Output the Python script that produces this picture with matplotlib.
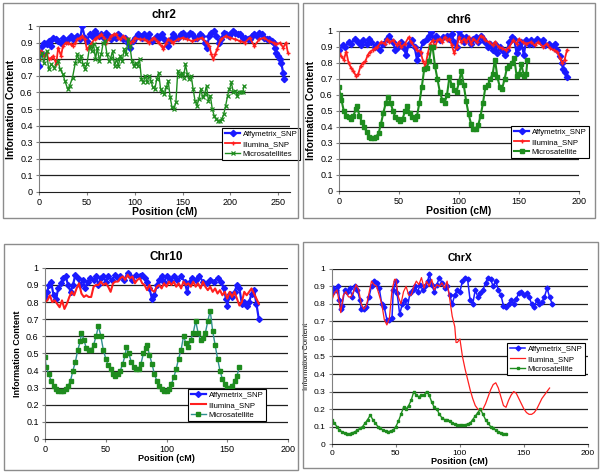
import matplotlib
matplotlib.use('Agg')
import matplotlib.pyplot as plt
from matplotlib.patches import Rectangle

plt.rcParams['font.family'] = ['Liberation Sans', 'DejaVu Sans']

# ---- chr2 ----
chr2_affy_pos = [0, 2, 3, 5, 8, 10, 13, 15, 18, 20, 23, 25, 28, 30, 33, 35, 38, 40, 43, 45, 48, 50, 53, 55, 58, 60,
                 63, 65, 68, 70, 73, 75, 78, 80, 83, 85, 88, 90, 93, 95, 98, 100, 103, 105, 108, 110, 113, 115, 118,
                 120, 123, 125, 128, 130, 133, 135, 138, 140, 143, 145, 148, 150, 153, 155, 158, 160, 163, 165, 168,
                 170, 173, 175, 178, 180, 183, 185, 188, 190, 193, 195, 198, 200, 203, 205, 208, 210, 213, 215, 218,
                 220, 223, 225, 228, 230, 233, 235, 238, 240, 243, 245, 247, 248, 250, 252, 253, 255, 256]
chr2_affy_ic = [0.76, 0.84, 0.88, 0.9, 0.89, 0.91, 0.88, 0.93, 0.92, 0.91, 0.9, 0.93, 0.91, 0.92, 0.94, 0.92, 0.93, 0.94,
                0.92, 1.0, 0.93, 0.91, 0.95, 0.94, 0.97, 0.95, 0.94, 0.95, 0.93, 0.96, 0.94, 0.92, 0.94, 0.93, 0.95,
                0.94, 0.92, 0.93, 0.9, 0.87, 0.91, 0.93, 0.95, 0.94, 0.93, 0.95, 0.93, 0.95, 0.91, 0.92, 0.94, 0.93,
                0.95, 0.93, 0.91, 0.88, 0.92, 0.95, 0.93, 0.93, 0.95, 0.96, 0.94, 0.94, 0.96, 0.95, 0.93, 0.93, 0.95,
                0.94, 0.9, 0.87, 0.94, 0.96, 0.97, 0.94, 0.9, 0.92, 0.96, 0.95, 0.94, 0.95, 0.97, 0.96, 0.95, 0.95,
                0.93, 0.93, 0.92, 0.92, 0.94, 0.95, 0.94, 0.96, 0.95, 0.93, 0.92, 0.92, 0.91, 0.9, 0.87, 0.84, 0.82,
                0.8, 0.78, 0.72, 0.68]
chr2_illu_pos = [0, 2, 5, 8, 10, 13, 15, 18, 20, 23, 25, 28, 30, 33, 35, 38, 40, 43, 45, 48, 50, 53, 55, 58, 60, 63, 65,
                 68, 70, 73, 75, 78, 80, 83, 85, 88, 90, 93, 95, 98, 100, 105, 110, 113, 115, 118, 120, 123, 125, 128,
                 130, 133, 135, 138, 140, 145, 150, 155, 160, 165, 170, 175, 178, 180, 182, 184, 186, 190, 195, 200,
                 205, 210, 215, 220, 225, 230, 235, 240, 245, 248, 252, 255, 258, 260]
chr2_illu_ic = [0.8, 0.85, 0.82, 0.84, 0.8, 0.81, 0.82, 0.77, 0.87, 0.82, 0.88, 0.9, 0.9, 0.89, 0.88, 0.9, 0.92, 0.93,
                0.94, 0.92, 0.86, 0.88, 0.9, 0.92, 0.93, 0.94, 0.95, 0.93, 0.9, 0.92, 0.94, 0.95, 0.95, 0.93, 0.92,
                0.94, 0.93, 0.92, 0.9, 0.91, 0.93, 0.92, 0.92, 0.91, 0.9, 0.92, 0.93, 0.91, 0.9, 0.88, 0.86, 0.9, 0.92,
                0.91, 0.9, 0.92, 0.93, 0.92, 0.91, 0.92, 0.93, 0.9, 0.88, 0.83, 0.8, 0.83, 0.86, 0.92, 0.94, 0.93,
                0.92, 0.91, 0.9, 0.93, 0.88, 0.92, 0.93, 0.91, 0.9, 0.89, 0.9, 0.87, 0.9, 0.84]
chr2_micro_pos = [0, 3, 5, 8, 10, 13, 16, 20, 22, 25, 27, 30, 32, 35, 38, 40, 42, 44, 46, 48, 50, 53, 55, 57, 59, 61,
                  63, 65, 67, 69, 71, 73, 75, 77, 79, 81, 83, 85, 87, 89, 91, 93, 95, 97, 99, 101, 103, 105, 107, 109,
                  111, 113, 115, 117, 119, 121, 123, 125, 127, 129, 131, 133, 135, 137, 139, 141, 143, 145, 147, 149,
                  151, 153, 155, 157, 159, 161, 163, 165, 167, 169, 171, 173, 175, 177, 179, 181, 183, 185, 187, 189,
                  191, 193, 195, 197, 199, 201, 203, 205, 207, 209, 211, 213, 214]
chr2_micro_ic = [0.8, 0.84, 0.78, 0.85, 0.74, 0.77, 0.75, 0.79, 0.74, 0.71, 0.67, 0.62, 0.64, 0.69, 0.78, 0.83, 0.79,
                 0.82, 0.77, 0.74, 0.77, 0.88, 0.85, 0.89, 0.8, 0.87, 0.79, 0.83, 0.9, 0.91, 0.83, 0.79, 0.81, 0.85,
                 0.76, 0.8, 0.76, 0.82, 0.79, 0.86, 0.83, 0.92, 0.88, 0.79, 0.76, 0.78, 0.76, 0.8, 0.68, 0.66, 0.7,
                 0.66, 0.7, 0.67, 0.63, 0.62, 0.68, 0.72, 0.62, 0.6, 0.59, 0.63, 0.67, 0.57, 0.51, 0.5, 0.54, 0.73,
                 0.7, 0.72, 0.69, 0.77, 0.71, 0.68, 0.7, 0.62, 0.55, 0.52, 0.56, 0.62, 0.57, 0.59, 0.64, 0.55, 0.58,
                 0.5, 0.46, 0.44, 0.43, 0.43, 0.44, 0.47, 0.52, 0.58, 0.62, 0.66, 0.6, 0.61, 0.58, 0.6, 0.6, 0.6, 0.64]

# ---- chr6 ----
chr6_affy_pos = [0, 3, 5, 8, 10, 13, 16, 18, 20, 23, 25, 27, 30, 32, 34, 37, 40, 42, 45, 47, 49, 52, 54, 56, 58, 61, 63,
                 65, 67, 70, 73, 75, 77, 79, 81, 84, 87, 90, 92, 94, 96, 98, 100, 102, 104, 106, 108, 110, 112, 114,
                 116, 118, 120, 122, 124, 126, 128, 130, 132, 134, 136, 138, 140, 142, 144, 146, 148, 150, 152, 154,
                 156, 158, 160, 162, 165, 168, 170, 172, 175, 178, 180, 182, 184, 186, 187, 188, 190]
chr6_affy_ic = [0.88, 0.91, 0.9, 0.93, 0.92, 0.95, 0.93, 0.91, 0.94, 0.92, 0.95, 0.93, 0.9, 0.92, 0.88, 0.92, 0.95,
                0.97, 0.93, 0.88, 0.9, 0.93, 0.89, 0.85, 0.92, 0.94, 0.9, 0.82, 0.86, 0.93, 0.95, 0.97, 0.99, 0.95,
                0.97, 0.94, 0.96, 0.97, 0.95, 0.98, 0.93, 0.9, 1.0, 0.97, 0.93, 0.96, 0.94, 0.92, 0.95, 0.96, 0.93,
                0.97, 0.95, 0.93, 0.9, 0.92, 0.88, 0.92, 0.86, 0.9, 0.88, 0.85, 0.88, 0.93, 0.96, 0.95, 0.86, 0.9,
                0.93, 0.85, 0.94, 0.92, 0.94, 0.92, 0.95, 0.93, 0.94, 0.91, 0.92, 0.9, 0.92, 0.88, 0.84, 0.8, 0.76,
                0.74, 0.71]
chr6_illu_pos = [0, 2, 4, 6, 8, 10, 12, 14, 16, 18, 20, 22, 24, 26, 28, 30, 32, 35, 38, 40, 42, 45, 48, 50, 52, 55, 58,
                 60, 63, 65, 68, 70, 72, 74, 76, 78, 80, 82, 84, 86, 88, 90, 92, 94, 96, 98, 100, 102, 104, 106, 108,
                 110, 112, 115, 118, 120, 122, 125, 128, 130, 133, 136, 139, 142, 145, 148, 150, 153, 156, 160, 163,
                 166, 170, 173, 176, 179, 182, 184, 186, 188, 190]
chr6_illu_ic = [0.86, 0.84, 0.82, 0.87, 0.8, 0.77, 0.75, 0.72, 0.73, 0.78, 0.8, 0.81, 0.85, 0.87, 0.88, 0.89, 0.9,
                0.93, 0.92, 0.95, 0.93, 0.94, 0.91, 0.93, 0.9, 0.92, 0.96, 0.93, 0.9, 0.88, 0.87, 0.81, 0.78, 0.86,
                0.92, 0.94, 0.9, 0.94, 0.95, 0.93, 0.96, 0.94, 0.95, 0.91, 0.86, 0.9, 0.96, 0.93, 0.95, 0.93, 0.96,
                0.92, 0.95, 0.93, 0.97, 0.96, 0.94, 0.93, 0.91, 0.93, 0.9, 0.89, 0.88, 0.9, 0.94, 0.92, 0.95, 0.93,
                0.92, 0.93, 0.91, 0.93, 0.9, 0.92, 0.89, 0.88, 0.87, 0.83, 0.8, 0.82, 0.88]
chr6_micro_pos = [0, 1, 2, 4, 6, 8, 10, 12, 14, 15, 17, 19, 21, 23, 25, 27, 29, 31, 33, 35, 37, 39, 41, 43, 45, 47, 49,
                  51, 53, 55, 57, 59, 61, 63, 65, 67, 69, 71, 73, 75, 77, 78, 80, 82, 84, 86, 88, 90, 92, 94, 96, 98,
                  100, 102, 104, 106, 108, 110, 112, 114, 116, 118, 120, 122, 124, 126, 128, 130, 132, 134, 136, 138,
                  140, 142, 144, 146, 148, 150, 152, 154, 156, 157]
chr6_micro_ic = [0.65, 0.6, 0.57, 0.5, 0.47, 0.46, 0.45, 0.47, 0.51, 0.53, 0.47, 0.43, 0.4, 0.37, 0.34, 0.33, 0.33,
                 0.34, 0.36, 0.42, 0.49, 0.55, 0.59, 0.55, 0.5, 0.46, 0.45, 0.44, 0.45, 0.5, 0.53, 0.49, 0.46, 0.45,
                 0.47, 0.55, 0.65, 0.76, 0.77, 0.81, 0.9, 0.9, 0.78, 0.7, 0.62, 0.57, 0.55, 0.6, 0.71, 0.66, 0.63,
                 0.62, 0.68, 0.75, 0.66, 0.56, 0.48, 0.42, 0.39, 0.39, 0.41, 0.47, 0.55, 0.65, 0.66, 0.7, 0.73, 0.82,
                 0.71, 0.65, 0.64, 0.7, 0.77, 0.78, 0.8, 0.83, 0.72, 0.73, 0.79, 0.72, 0.73, 0.82]

# ---- chr10 ----
chr10_affy_pos = [0, 2, 3, 5, 7, 9, 11, 13, 15, 17, 19, 21, 23, 25, 27, 29, 31, 33, 35, 37, 40, 42, 44, 46, 48, 50, 52,
                  55, 58, 60, 62, 65, 68, 70, 72, 75, 78, 80, 82, 84, 86, 88, 90, 92, 94, 96, 98, 100, 103, 106, 109,
                  112, 115, 117, 119, 121, 124, 127, 130, 133, 136, 139, 142, 145, 147, 149, 150, 152, 154, 156, 158,
                  160, 162, 164, 166, 168, 170, 172, 174, 176]
chr10_affy_ic = [0.83, 0.86, 0.9, 0.92, 0.84, 0.82, 0.88, 0.91, 0.94, 0.95, 0.9, 0.86, 0.9, 0.96, 0.94, 0.9, 0.93,
                 0.88, 0.92, 0.94, 0.93, 0.95, 0.9, 0.94, 0.95, 0.92, 0.95, 0.93, 0.96, 0.94, 0.95, 0.93, 0.97, 0.95,
                 0.93, 0.96, 0.95, 0.96, 0.94, 0.92, 0.88, 0.82, 0.84, 0.9, 0.93, 0.95, 0.92, 0.95, 0.93, 0.95, 0.93,
                 0.95, 0.92, 0.86, 0.92, 0.94, 0.93, 0.95, 0.92, 0.91, 0.93, 0.92, 0.94, 0.92, 0.88, 0.82, 0.78, 0.85,
                 0.83, 0.86, 0.9, 0.88, 0.79, 0.8, 0.78, 0.8, 0.85, 0.87, 0.79, 0.7]
chr10_illu_pos = [0, 2, 4, 6, 8, 10, 12, 14, 16, 18, 20, 22, 24, 26, 28, 30, 32, 34, 36, 38, 40, 42, 44, 46, 48, 50, 52,
                  54, 56, 58, 60, 62, 64, 66, 68, 70, 72, 74, 76, 78, 80, 82, 84, 86, 88, 90, 92, 94, 96, 98, 100, 102,
                  104, 106, 108, 110, 112, 114, 116, 118, 120, 122, 124, 126, 128, 130, 132, 134, 136, 138, 140, 142,
                  144, 146, 148, 150, 152, 154, 156, 158, 160, 162, 164, 166, 168, 170, 172, 174, 176]
chr10_illu_ic = [0.8, 0.81, 0.84, 0.8, 0.81, 0.79, 0.77, 0.81, 0.76, 0.79, 0.83, 0.86, 0.84, 0.88, 0.91, 0.85, 0.83,
                 0.84, 0.83, 0.83, 0.89, 0.9, 0.9, 0.92, 0.9, 0.91, 0.89, 0.86, 0.91, 0.92, 0.92, 0.94, 0.95, 0.93,
                 0.96, 0.94, 0.95, 0.91, 0.93, 0.94, 0.91, 0.9, 0.87, 0.9, 0.87, 0.86, 0.89, 0.9, 0.88, 0.91, 0.89,
                 0.92, 0.9, 0.92, 0.89, 0.91, 0.88, 0.92, 0.9, 0.91, 0.89, 0.92, 0.89, 0.91, 0.88, 0.92, 0.89, 0.87,
                 0.89, 0.86, 0.88, 0.85, 0.87, 0.84, 0.86, 0.82, 0.86, 0.83, 0.86, 0.82, 0.78, 0.8, 0.86, 0.84, 0.86,
                 0.88, 0.85, 0.82, 0.79]
chr10_micro_pos = [0, 1, 3, 5, 7, 9, 11, 13, 15, 17, 19, 21, 23, 25, 27, 29, 30, 32, 34, 36, 38, 40, 42, 44, 46, 48,
                   50, 52, 54, 56, 58, 60, 62, 64, 66, 67, 69, 71, 73, 75, 77, 79, 81, 83, 84, 86, 88, 90, 92, 94, 96,
                   98, 100, 102, 104, 106, 108, 110, 112, 114, 116, 118, 120, 122, 124, 126, 128, 130, 132, 134, 136,
                   138, 140, 142, 144, 146, 148, 150, 152, 154, 156, 158, 160]
chr10_micro_ic = [0.48, 0.42, 0.38, 0.34, 0.31, 0.29, 0.28, 0.28, 0.28, 0.29, 0.31, 0.34, 0.4, 0.45, 0.52, 0.57, 0.62,
                  0.58, 0.53, 0.52, 0.52, 0.55, 0.6, 0.66, 0.6, 0.52, 0.47, 0.43, 0.41, 0.38, 0.37, 0.38, 0.4, 0.44,
                  0.49, 0.54, 0.5, 0.45, 0.42, 0.41, 0.41, 0.44, 0.5, 0.53, 0.55, 0.49, 0.44, 0.38, 0.34, 0.31, 0.29,
                  0.28, 0.28, 0.29, 0.32, 0.36, 0.41, 0.47, 0.52, 0.6, 0.56, 0.54, 0.58, 0.62, 0.69, 0.62, 0.58, 0.59,
                  0.62, 0.69, 0.75, 0.63, 0.55, 0.47, 0.4, 0.35, 0.32, 0.3, 0.3, 0.31, 0.34, 0.37, 0.42]

# ---- chrX ----
chrX_affy_pos = [0, 1, 3, 5, 6, 7, 8, 10, 12, 14, 16, 18, 20, 22, 23, 25, 27, 29, 31, 33, 35, 37, 39, 41, 43, 45, 47,
                 48, 50, 51, 53, 55, 57, 59, 61, 63, 65, 67, 69, 71, 73, 75, 76, 78, 80, 82, 84, 86, 88, 90, 92, 94,
                 96, 98, 100, 102, 104, 106, 108, 110, 112, 114, 116, 118, 120, 122, 124, 126, 128, 130, 132, 134,
                 136, 138, 140, 142, 144, 146, 148, 150, 152, 154, 156, 158, 160, 162, 164, 166, 168, 170, 172]
chrX_affy_ic = [0.86, 0.89, 0.88, 0.9, 0.82, 0.77, 0.79, 0.88, 0.87, 0.89, 0.84, 0.9, 0.88, 0.82, 0.77, 0.77, 0.78,
                0.84, 0.9, 0.93, 0.92, 0.89, 0.8, 0.78, 0.71, 0.71, 0.72, 0.88, 0.93, 0.86, 0.74, 0.8, 0.82, 0.78,
                0.86, 0.88, 0.9, 0.87, 0.91, 0.88, 0.9, 0.93, 0.97, 0.91, 0.87, 0.91, 0.95, 0.92, 0.89, 0.9, 0.85,
                0.8, 0.85, 0.88, 0.87, 0.93, 0.95, 0.94, 0.82, 0.8, 0.88, 0.84, 0.86, 0.88, 0.92, 0.95, 0.94, 0.9,
                0.93, 0.88, 0.85, 0.79, 0.78, 0.8, 0.82, 0.8, 0.83, 0.86, 0.87, 0.85, 0.86, 0.84, 0.8, 0.78, 0.82,
                0.8, 0.81, 0.84, 0.89, 0.84, 0.8]
chrX_illu_pos = [0, 2, 4, 6, 7, 9, 11, 13, 15, 17, 19, 21, 23, 25, 27, 29, 31, 33, 35, 37, 39, 41, 43, 45, 47, 49, 50,
                 52, 54, 56, 58, 60, 62, 64, 66, 68, 70, 72, 74, 76, 78, 80, 82, 84, 86, 88, 90, 92, 94, 96, 97, 98,
                 100, 102, 104, 106, 108, 110, 112, 114, 116, 118, 120, 122, 124, 126, 128, 130, 132, 134, 136, 138,
                 140, 142, 144, 146, 148, 150, 152, 154, 156, 158, 160, 162, 164, 166, 168, 170]
chrX_illu_ic = [0.82, 0.86, 0.88, 0.8, 0.75, 0.85, 0.87, 0.84, 0.84, 0.87, 0.91, 0.88, 0.8, 0.77, 0.79, 0.86, 0.93,
                0.91, 0.9, 0.85, 0.8, 0.71, 0.68, 0.72, 0.88, 0.94, 0.94, 0.84, 0.8, 0.87, 0.9, 0.85, 0.85, 0.9, 0.93,
                0.91, 0.95, 0.89, 0.93, 0.9, 0.94, 0.88, 0.91, 0.9, 0.92, 0.89, 0.93, 0.83, 0.73, 0.67, 0.58, 0.58,
                0.6, 0.5, 0.43, 0.37, 0.31, 0.26, 0.22, 0.2, 0.19, 0.2, 0.23, 0.27, 0.31, 0.34, 0.35, 0.32, 0.27,
                0.22, 0.21, 0.25, 0.28, 0.3, 0.29, 0.26, 0.23, 0.2, 0.18, 0.17, 0.17, 0.18, 0.2, 0.23, 0.26, 0.28,
                0.3, 0.32]
chrX_micro_pos = [0, 2, 4, 6, 8, 10, 12, 14, 16, 18, 20, 22, 24, 26, 28, 30, 32, 34, 36, 38, 40, 42, 44, 46, 48, 50, 52,
                  54, 56, 58, 60, 62, 64, 66, 68, 70, 72, 74, 76, 78, 80, 82, 84, 86, 88, 90, 92, 94, 96, 98, 100, 102,
                  104, 106, 108, 110, 112, 114, 116, 118, 120, 122, 124, 126, 128, 130, 132, 134, 136]
chrX_micro_ic = [0.14, 0.12, 0.1, 0.08, 0.07, 0.065, 0.06, 0.06, 0.065, 0.07, 0.08, 0.09, 0.1, 0.12, 0.14, 0.165, 0.14,
                 0.12, 0.1, 0.09, 0.08, 0.075, 0.07, 0.075, 0.08, 0.1, 0.13, 0.17, 0.21, 0.2, 0.22, 0.25, 0.3, 0.28,
                 0.27, 0.28, 0.28, 0.3, 0.28, 0.24, 0.21, 0.2, 0.17, 0.15, 0.14, 0.14, 0.13, 0.12, 0.115, 0.11, 0.11,
                 0.11, 0.11, 0.115, 0.12, 0.14, 0.16, 0.18, 0.2, 0.17, 0.14, 0.12, 0.1, 0.09, 0.08, 0.07, 0.065, 0.06,
                 0.06]

y_ticks = [0, 0.1, 0.2, 0.3, 0.4, 0.5, 0.6, 0.7, 0.8, 0.9, 1.0]
y_tick_labels = ['0', '0.1', '0.2', '0.3', '0.4', '0.5', '0.6', '0.7', '0.8', '0.9', '1']

BLUE = '#1a1aff'
RED = '#ff1f1f'
GREEN = '#1e8c1e'

fig = plt.figure(figsize=(6, 4.75), dpi=100)
fig.patch.set_facecolor('white')

# chart area frames like the Excel screenshots
for fx, fy, fw, fh in [(0.005, 0.541, 0.492, 0.453), (0.505, 0.541, 0.487, 0.453),
                       (0.007, 0.011, 0.49, 0.476), (0.505, 0.015, 0.492, 0.476)]:
    fig.add_artist(Rectangle((fx, fy), fw, fh, transform=fig.transFigure, fill=False,
                             edgecolor='#8c8c8c', linewidth=1.0))


def setup_axes(ax, title, xmax, xticks, ylab_size, ylab_weight, tick_size=6.5, xlab_size=7.5, title_size=8.5):
    ax.set_xlim(0, xmax)
    ax.set_ylim(0, 1)
    ax.set_yticks(y_ticks)
    ax.set_yticklabels(y_tick_labels)
    ax.set_xticks(xticks)
    ax.tick_params(labelsize=tick_size, length=2.5, width=0.8, color='#808080', pad=2)
    for y in y_ticks[1:]:
        ax.axhline(y, color='#202020', linewidth=0.9, zorder=0)
    for s in ['top', 'right']:
        ax.spines[s].set_visible(False)
    ax.spines['left'].set_color('#808080')
    ax.spines['bottom'].set_color('#202020')
    ax.set_title(title, fontsize=title_size, fontweight='bold', pad=6)
    ax.set_ylabel('Information Content', fontsize=ylab_size, fontweight=ylab_weight, labelpad=3)
    ax.set_xlabel('Position (cM)', fontsize=xlab_size, fontweight='bold', labelpad=0)


def add_legend(ax, x0, ytop, fs=5.6):
    leg = ax.legend(loc='upper left', bbox_to_anchor=(x0, ytop), fontsize=fs, frameon=True, fancybox=False,
                    edgecolor='black', framealpha=1, borderpad=0.35, labelspacing=0.3, handlelength=2.0,
                    handletextpad=0.3, borderaxespad=0)
    leg.get_frame().set_linewidth(0.8)


# chr2
ax1 = fig.add_axes([0.065, 0.596, 0.418, 0.349])
ax1.plot(chr2_affy_pos, chr2_affy_ic, color=BLUE, marker='D', markersize=3.2, linewidth=1.6, label='Affymetrix_SNP')
ax1.plot(chr2_illu_pos, chr2_illu_ic, color=RED, marker='+', markersize=3, linewidth=1.3, label='Illumina_SNP')
ax1.plot(chr2_micro_pos, chr2_micro_ic, color=GREEN, marker='x', markersize=3, markeredgewidth=0.9,
         linewidth=1.0, label='Microsatellites')
setup_axes(ax1, 'chr2', 262, [0, 50, 100, 150, 200, 250], 7.5, 'bold')
add_legend(ax1, 0.73, 0.386)

# chr6
ax2 = fig.add_axes([0.565, 0.598, 0.400, 0.337])
ax2.plot(chr6_affy_pos, chr6_affy_ic, color=BLUE, marker='D', markersize=3.2, linewidth=1.6, label='Affymetrix_SNP')
ax2.plot(chr6_illu_pos, chr6_illu_ic, color=RED, marker='+', markersize=3, linewidth=1.3, label='Illumina_SNP')
ax2.plot(chr6_micro_pos, chr6_micro_ic, color=GREEN, marker='s', markersize=2.5, linewidth=1.5,
         label='Microsatellite')
setup_axes(ax2, 'chr6', 200, [0, 50, 100, 150, 200], 7.5, 'bold')
add_legend(ax2, 0.717, 0.406)

# chr10
ax3 = fig.add_axes([0.075, 0.076, 0.405, 0.36])
ax3.plot(chr10_affy_pos, chr10_affy_ic, color=BLUE, marker='D', markersize=3.0, linewidth=1.6, label='Affymetrix_SNP')
ax3.plot(chr10_illu_pos, chr10_illu_ic, color=RED, linewidth=1.5, label='Illumina_SNP')
ax3.plot(chr10_micro_pos, chr10_micro_ic, color='#2f8f8f', marker='s', markersize=2.5,
         markerfacecolor=GREEN, markeredgecolor=GREEN, linewidth=1.0, label='Microsatellite')
setup_axes(ax3, 'Chr10', 200, [0, 50, 100, 150, 200], 6.5, 'bold', xlab_size=6.5)
add_legend(ax3, 0.588, 0.292)

# chrX
ax4 = fig.add_axes([0.553, 0.065, 0.427, 0.369])
ax4.plot(chrX_affy_pos, chrX_affy_ic, color=BLUE, marker='D', markersize=2.5, linewidth=1.1, label='Affymetrix_SNP')
ax4.plot(chrX_illu_pos, chrX_illu_ic, color=RED, linewidth=0.9, label='Illumina_SNP')
ax4.plot(chrX_micro_pos, chrX_micro_ic, color=GREEN, marker='s', markersize=2, linewidth=1.0,
         label='Microsatellite')
setup_axes(ax4, 'ChrX', 200, [0, 50, 100, 150, 200], 5.5, 'normal', tick_size=6, xlab_size=6.5, title_size=7.5)
add_legend(ax4, 0.684, 0.577)

fig.savefig('out.png', dpi=100, facecolor='white')
